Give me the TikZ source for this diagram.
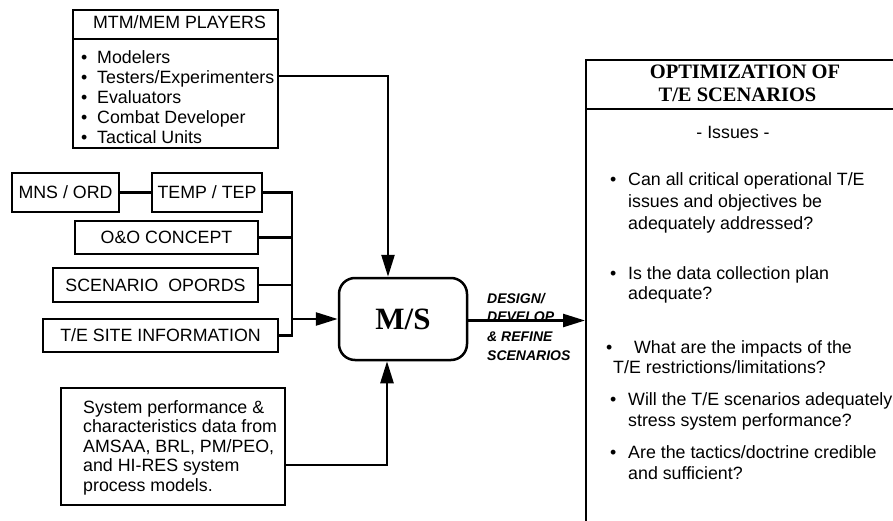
\documentclass[tikz,border=0pt]{standalone}
\usepackage{fontspec}
\setmainfont{Liberation Serif}
\setsansfont{Liberation Sans}
\usetikzlibrary{arrows.meta,calc}
\tikzset{
  box/.style={draw, line width=2pt, inner sep=0pt},
  txt/.style={font=\fontsize{17.8}{20}\selectfont\sffamily, inner sep=0pt},
  boxtxt/.style={box, txt, text height=12.8pt, text depth=0pt},
  lbl/.style={font=\fontsize{14}{16}\selectfont\sffamily\bfseries\itshape, inner sep=0pt, anchor=base west},
  head/.style={font=\fontsize{20.5}{24}\selectfont\rmfamily\bfseries, inner sep=0pt, anchor=base},
  conn/.style={line width=2.5pt},
  arr/.style={conn, -{Triangle[length=22pt,width=13pt]}},
}
\newcommand{\lb}{\makebox[16pt][l]{•}}
\newcommand{\rb}{\makebox[18pt][l]{•}}
\begin{document}
\begin{tikzpicture}[x=1pt,y=-1pt]
\useasboundingbox (0,0) rectangle (893,521);
\clip (0,0) rectangle (893,521);

% players box
\node[box, minimum width=205pt, minimum height=138pt] (mtm) at (175.5,79) {};
\draw[line width=2pt] (73,39) -- (278,39);
\node[txt, anchor=base] (mtmh) at (179.5,28.5) {MTM/MEM PLAYERS};
\node[txt, anchor=base west] (li1) at (81,63.3) {\lb Modelers};
\node[txt, anchor=base west] (li2) at (81,83.4) {\lb Testers/Experimenters};
\node[txt, anchor=base west] (li3) at (81,103.5) {\lb Evaluators};
\node[txt, anchor=base west] (li4) at (81,123.6) {\lb Combat Developer};
\node[txt, anchor=base west] (li5) at (81,143.7) {\lb Tactical Units};

% document inputs
\node[boxtxt, minimum width=107pt, minimum height=39pt] (mns) at (65.5,192.5) {MNS / ORD};
\node[boxtxt, minimum width=110pt, minimum height=39pt] (temp) at (207,192.5) {TEMP / TEP};
\node[boxtxt, minimum width=183pt, minimum height=33pt] (oo) at (166.5,237.5) {O\&O CONCEPT};
\node[boxtxt, minimum width=205pt, minimum height=34pt] (scen) at (155.5,285) {SCENARIO~~OPORDS};
\node[boxtxt, minimum width=235pt, minimum height=33pt] (site) at (160.5,335.5) {T/E SITE INFORMATION};

% system data box
\node[box, minimum width=224pt, minimum height=117pt] (sys) at (173,446.5) {};
\node[txt, anchor=base west] (s1) at (83,413) {System performance \&};
\node[txt, anchor=base west] (s2) at (83,432.5) {characteristics data from};
\node[txt, anchor=base west] (s3) at (83,452) {AMSAA, BRL, PM/PEO,};
\node[txt, anchor=base west] (s4) at (83,471.5) {and HI-RES system};
\node[txt, anchor=base west] (s5) at (83,491) {process models.};

% central model/simulation box
\node[draw, line width=2.5pt, rounded corners=16pt, minimum width=128pt, minimum height=82pt,
      font=\fontsize{31}{34}\selectfont\rmfamily\bfseries, text height=21pt, text depth=0pt] (ms) at (403,319) {M/S};

% output box
\node[box, minimum width=330pt, minimum height=480pt, anchor=north west] (opt) at (585,59) {};
\draw[line width=2pt] (585,109) -- (915,109);
\node[head] (h1) at (745,78.5) {OPTIMIZATION OF};
\node[head] (h2) at (737.5,101.7) {T/E SCENARIOS};
\node[txt, anchor=base] (iss) at (733,139) {- Issues -};
\node[txt, anchor=base west] (q1a) at (610,186) {\rb Can all critical operational T/E};
\node[txt, anchor=base west] (q1b) at (628,208) {issues and objectives be};
\node[txt, anchor=base west] (q1c) at (628,229.5) {adequately addressed?};
\node[txt, anchor=base west] (q2a) at (610,279) {\rb Is the data collection plan};
\node[txt, anchor=base west] (q2b) at (628,299.5) {adequate?};
\node[txt, anchor=base west] (q3a) at (606,353) {\makebox[28pt][l]{•}What are the impacts of the};
\node[txt, anchor=base west] (q3b) at (613,373.5) {T/E restrictions/limitations?};
\node[txt, anchor=base west] (q4a) at (610,405.5) {\rb Will the T/E scenarios adequately};
\node[txt, anchor=base west] (q4b) at (628,426) {stress system performance?};
\node[txt, anchor=base west] (q5a) at (610,458.5) {\rb Are the tactics/doctrine credible};
\node[txt, anchor=base west] (q5b) at (628,479) {and sufficient?};

% arrow label
\node[lbl] (d1) at (487,303) {DESIGN/};
\node[lbl] (d2) at (487,321.5) {DEVELOP};
\node[lbl] (d3) at (487,341) {\& REFINE};
\node[lbl] (d4) at (487,360) {SCENARIOS};

% connectors
\coordinate (busx) at (292,0);
\draw[arr] ([yshift=-67pt]mtm.north east) -| ([xshift=-15pt]ms.north);
\draw[conn] (mns) -- (temp);
\draw[conn] (temp.east) -| (busx |- site.east) -- (site.east);
\draw[conn] (oo.east) -- (oo.east -| busx);
\draw[conn] (scen.east) -- (scen.east -| busx);
\draw[arr] (busx |- ms.west) -- (ms.west);
\draw[arr] ([yshift=-18.5pt]sys.east) -| ([xshift=-16pt]ms.south);
\draw[arr] ([yshift=-1.5pt]ms.east) -- ([yshift=-1.5pt]ms.east -| opt.west);
\end{tikzpicture}
\end{document}
